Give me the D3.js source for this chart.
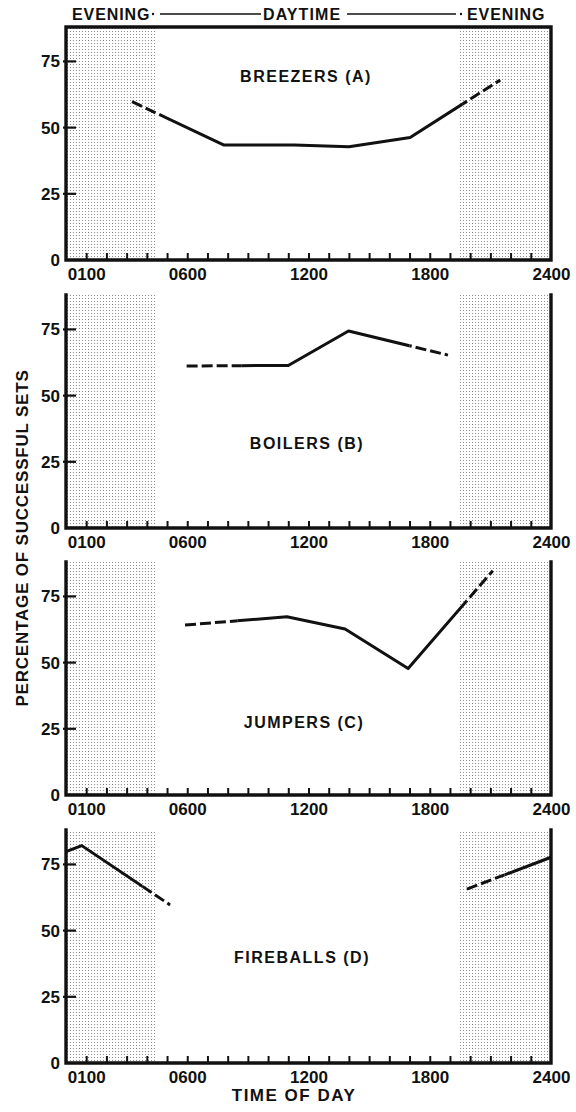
<!DOCTYPE html>
<html><head><meta charset="utf-8">
<script src="https://cdn.jsdelivr.net/npm/d3@7"></script>
<style>
body{margin:0;background:#fff}
svg{display:block}
text{font-family:"Liberation Sans",Arial,sans-serif;font-weight:bold;fill:#111}
</style>
</head><body>
<svg id="chart" width="576" height="1112"></svg>
<script>
// ---------------- DATA ----------------
const minorTickHours = d3.range(1, 24);
const labelHours = [1, 6, 12, 18, 24];
const labelTexts = ["0100", "0600", "1200", "1800", "2400"];
const yTickValues = [0, 25, 50, 75];
const eveningBands = [[0, 4.5], [19.5, 24]];
const panelNames = ["BREEZERS (A)", "BOILERS (B)", "JUMPERS (C)", "FIREBALLS (D)"];
const headerLabels = ["EVENING", "DAYTIME", "EVENING"];

const breezersHours  = [3.27, 7.82, 11.29, 14.0, 17.03, 21.49];
const breezersValues = [59.8, 43.4, 43.4, 42.8, 46.3, 68.0];
const breezersSolid  = [5.05, 19.6];

const boilersHours   = [5.97, 11.0, 13.98, 18.9];
const boilersValues  = [61.2, 61.4, 74.4, 65.3];
const boilersSolid   = [8.7, 17.0];

const jumpersHours   = [5.89, 10.93, 13.81, 16.93, 21.12];
const jumpersValues  = [64.2, 67.3, 62.7, 47.8, 84.7];
const jumpersSolid   = [8.5, 19.8];

const fireballsLateHours   = [0, 0.78, 5.15];
const fireballsLateValues  = [79.8, 82.1, 59.7];
const fireballsLateSolid   = [0, 3.8];
const fireballsEarlyHours  = [19.84, 24];
const fireballsEarlyValues = [65.7, 77.7];
const fireballsEarlySolid  = [21.7, 24];

const panelSeries = [
  [{h: breezersHours, v: breezersValues, solid: breezersSolid}],
  [{h: boilersHours, v: boilersValues, solid: boilersSolid}],
  [{h: jumpersHours, v: jumpersValues, solid: jumpersSolid}],
  [{h: fireballsLateHours, v: fireballsLateValues, solid: fireballsLateSolid},
   {h: fireballsEarlyHours, v: fireballsEarlyValues, solid: fireballsEarlySolid}]
];

// ---------------- LAYOUT ----------------
const X0 = 66, X1 = 551;
const panelBottoms = [260, 528, 795, 1063];
const panelHeight = 233;
const yMax = 88;
const titleAt = [67.3, 30, 25.3, 37.8]; // in value units
const titleX = [306, 307, 304, 302];

const svg = d3.select("#chart");
const x = d3.scaleLinear().domain([0, 24]).range([X0, X1]);

// dot pattern
const defs = svg.append("defs");
const pat = defs.append("pattern").attr("id", "dots")
  .attr("patternUnits", "userSpaceOnUse").attr("width", 3).attr("height", 3);
pat.append("rect").attr("x", 1).attr("y", 1).attr("width", 1).attr("height", 1)
  .attr("fill", "#444").attr("opacity", 0.6);

panelBottoms.forEach((bottom, i) => {
  const top = bottom - panelHeight;
  const y = d3.scaleLinear().domain([0, yMax]).range([bottom, top]);
  const g = svg.append("g");

  // shading
  g.selectAll("rect.band").data(eveningBands).enter().append("rect")
    .attr("x", d => x(d[0])).attr("width", d => x(d[1]) - x(d[0]))
    .attr("y", top).attr("height", bottom - top)
    .attr("fill", "url(#dots)");

  // minor ticks
  const tickAxis = d3.axisBottom(x).tickValues(minorTickHours).tickSize(-7).tickFormat("");
  const ta = g.append("g").attr("transform", `translate(0,${bottom})`).call(tickAxis);
  ta.select(".domain").remove();
  ta.selectAll("line").attr("stroke", "#111").attr("stroke-width", 2);

  // labels
  const labAxis = d3.axisBottom(x).tickValues(labelHours).tickSize(0).tickPadding(8)
    .tickFormat((d, k) => labelTexts[k]);
  const la = g.append("g").attr("transform", `translate(0,${bottom})`).call(labAxis);
  la.select(".domain").remove();
  la.selectAll("text").attr("font-size", 17).attr("font-family", null).attr("fill", "#111");

  // y axis labels
  const yAxis = d3.axisLeft(y).tickValues(yTickValues).tickSize(0).tickPadding(6);
  const ya = g.append("g").attr("transform", `translate(${X0},0)`).call(yAxis);
  ya.select(".domain").remove();
  ya.selectAll("text").attr("font-size", 17).attr("font-family", null).attr("fill", "#111");
  g.selectAll("line.ytick").data(yTickValues.filter(d => d > 0)).enter().append("line")
    .attr("x1", X0 - 3).attr("x2", X0 + 10)
    .attr("y1", d => y(d)).attr("y2", d => y(d))
    .attr("stroke", "#111").attr("stroke-width", 2.2);

  // frame
  const frame = d3.path();
  if (i === 0) {
    frame.moveTo(X0, top); frame.lineTo(X1, top);
  }
  frame.moveTo(X0, top); frame.lineTo(X0, bottom); frame.lineTo(X1, bottom); frame.lineTo(X1, top);
  g.append("path").attr("d", frame.toString()).attr("fill", "none")
    .attr("stroke", "#111").attr("stroke-width", 3.4).attr("stroke-linecap", "square");

  // title
  g.append("text").attr("x", titleX[i]).attr("y", y(titleAt[i]))
    .attr("text-anchor", "middle").attr("font-size", 16).attr("letter-spacing", 1.5)
    .text(panelNames[i]);

  // series
  const line = d3.line().x(d => x(d[0])).y(d => y(d[1]));
  panelSeries[i].forEach((s, j) => {
    const pts = s.h.map((h, k) => [h, s.v[k]]);
    const sid = `s${i}_${j}`, did = `d${i}_${j}`;
    defs.append("clipPath").attr("id", sid).append("rect")
      .attr("x", x(s.solid[0])).attr("width", x(s.solid[1]) - x(s.solid[0]))
      .attr("y", top - 20).attr("height", panelHeight + 40);
    const dc = defs.append("clipPath").attr("id", did);
    dc.append("rect").attr("x", 0).attr("width", x(s.solid[0]))
      .attr("y", top - 20).attr("height", panelHeight + 40);
    dc.append("rect").attr("x", x(s.solid[1])).attr("width", 576 - x(s.solid[1]))
      .attr("y", top - 20).attr("height", panelHeight + 40);
    g.append("path").attr("d", line(pts)).attr("fill", "none").attr("stroke", "#111")
      .attr("stroke-width", 3).attr("stroke-linejoin", "round")
      .attr("clip-path", `url(#${sid})`);
    g.append("path").attr("d", line(pts)).attr("fill", "none").attr("stroke", "#111")
      .attr("stroke-width", 3).attr("stroke-dasharray", "11,4")
      .attr("clip-path", `url(#${did})`);
  });
});

// header
const hy = 20;
svg.append("text").attr("x", 72).attr("y", hy).attr("font-size", 16).attr("letter-spacing", 0.9).text(headerLabels[0]);
svg.append("text").attr("x", 263).attr("y", hy).attr("font-size", 16).attr("letter-spacing", 1.1).text(headerLabels[1]);
svg.append("text").attr("x", 467).attr("y", hy).attr("font-size", 16).attr("letter-spacing", 0.9).text(headerLabels[2]);
[[160, 261], [347, 456]].forEach(([a, b]) => {
  svg.append("line").attr("x1", a).attr("x2", b).attr("y1", 14).attr("y2", 14)
    .attr("stroke", "#111").attr("stroke-width", 1.4);
});
[153, 461].forEach(cx => svg.append("circle").attr("cx", cx).attr("cy", 14).attr("r", 1.2).attr("fill", "#111"));

// axis titles
svg.append("text").attr("transform", "translate(27.5,538) rotate(-90)")
  .attr("text-anchor", "middle").attr("font-size", 17).attr("letter-spacing", 0.8)
  .text("PERCENTAGE OF SUCCESSFUL SETS");
svg.append("text").attr("x", 294).attr("y", 1101).attr("text-anchor", "middle")
  .attr("font-size", 17).attr("letter-spacing", 1.5).text("TIME OF DAY");
</script>
</body></html>
